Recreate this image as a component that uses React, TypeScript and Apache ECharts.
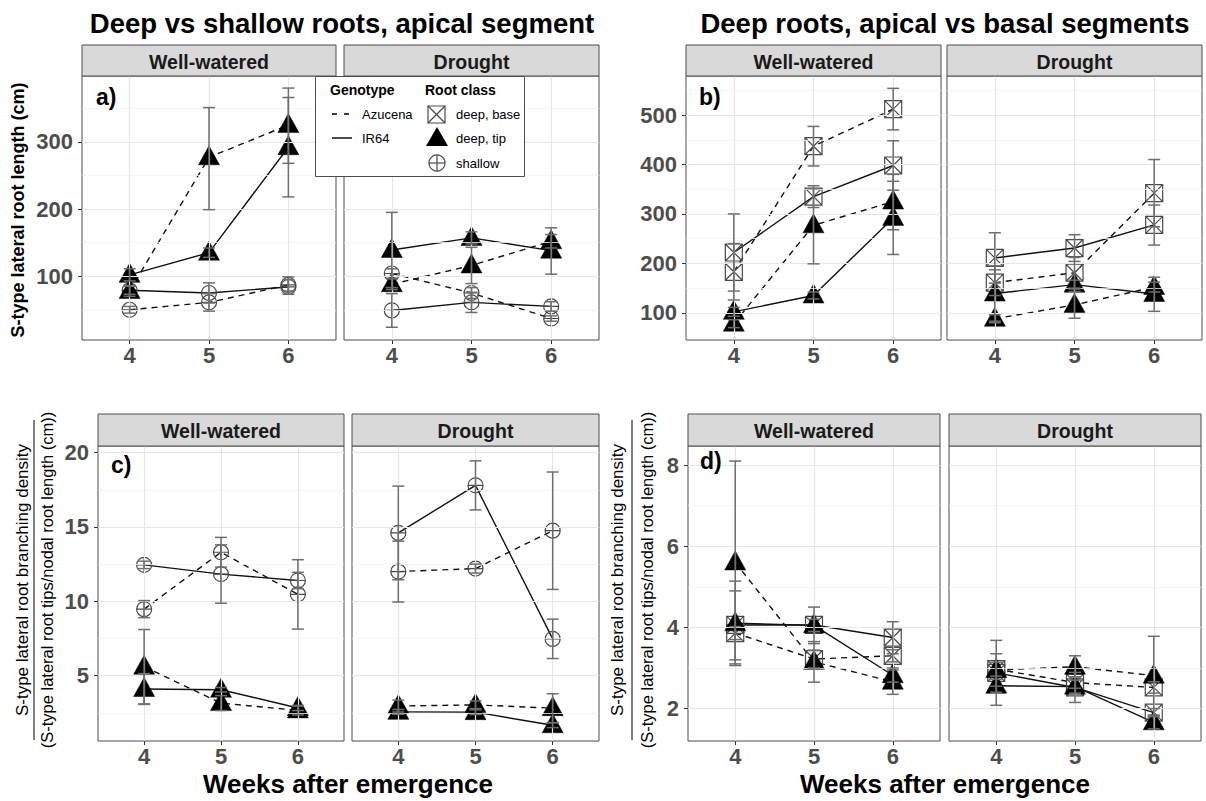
import React, { useEffect, useRef } from "react";
import * as echarts from "echarts";

const FONT = '"Liberation Sans", Arial, Helvetica, sans-serif';

// ---------- categories / ticks ----------
const weeks = [4, 5, 6];
const treatments = ["Well-watered", "Drought"];
const lenTicksA = [100, 200, 300];
const lenMinorA = [50, 150, 250, 350];
const lenTicksB = [100, 200, 300, 400, 500];
const lenMinorB = [50, 150, 250, 350, 450, 550];
const denTicksC = [5, 10, 15, 20];
const denMinorC = [2.5, 7.5, 12.5, 17.5];
const denTicksD = [2, 4, 6, 8];
const denMinorD = [3, 5, 7];

// ---------- S-type lateral root length (cm) ----------
// deep, tip
const lenTipAzuWW = [78, 277, 325];
const lenTipAzuWWLo = [70, 199, 268];
const lenTipAzuWWHi = [86, 351, 380];
const lenTipIRWW = [102, 135, 292];
const lenTipIRWWLo = [93, 128, 218];
const lenTipIRWWHi = [111, 142, 366];
const lenTipAzuDR = [88, 116, 152];
const lenTipAzuDRLo = [80, 89, 142];
const lenTipAzuDRHi = [96, 143, 162];
const lenTipIRDR = [139, 157, 138];
const lenTipIRDRLo = [83, 148, 103];
const lenTipIRDRHi = [195, 166, 172];
// shallow
const lenShAzuWW = [50, 61, 87];
const lenShAzuWWLo = [45, 48, 78];
const lenShAzuWWHi = [55, 74, 99];
const lenShIRWW = [79, 75, 84];
const lenShIRWWLo = [73, 60, 73];
const lenShIRWWHi = [85, 90, 95];
const lenShAzuDR = [104, 75, 37];
const lenShAzuDRLo = [97, 67, 33];
const lenShAzuDRHi = [111, 83, 41];
const lenShIRDR = [49, 61, 55];
const lenShIRDRLo = [24, 46, 48];
const lenShIRDRHi = [74, 76, 62];
// deep, base
const lenBaseAzuWW = [183, 437, 512];
const lenBaseAzuWWLo = [126, 397, 470];
const lenBaseAzuWWHi = [240, 477, 554];
const lenBaseIRWW = [222, 335, 398];
const lenBaseIRWWLo = [144, 313, 348];
const lenBaseIRWWHi = [300, 357, 448];
const lenBaseAzuDR = [161, 181, 342];
const lenBaseAzuDRLo = [135, 150, 274];
const lenBaseAzuDRHi = [187, 212, 410];
const lenBaseIRDR = [211, 231, 278];
const lenBaseIRDRLo = [160, 204, 237];
const lenBaseIRDRHi = [262, 258, 318];

// ---------- S-type lateral root branching density ----------
// shallow
const denShAzuWW = [9.47, 13.3, 10.47];
const denShAzuWWLo = [8.9, 12.3, 8.13];
const denShAzuWWHi = [10.05, 14.3, 12.8];
const denShIRWW = [12.45, 11.83, 11.4];
const denShIRWWLo = [12.2, 9.87, 10.85];
const denShIRWWHi = [12.7, 13.8, 11.95];
const denShAzuDR = [12.0, 12.2, 14.75];
const denShAzuDRLo = [9.95, 11.9, 10.8];
const denShAzuDRHi = [14.05, 12.5, 18.7];
const denShIRDR = [14.6, 17.8, 7.47];
const denShIRDRLo = [11.45, 16.15, 6.15];
const denShIRDRHi = [17.75, 19.45, 8.8];
// deep, tip
const denTipAzuWW = [5.6, 3.15, 2.66];
const denTipAzuWWLo = [3.1, 2.65, 2.35];
const denTipAzuWWHi = [8.1, 3.65, 2.95];
const denTipIRWW = [4.1, 4.05, 2.82];
const denTipIRWWLo = [3.06, 3.9, 2.65];
const denTipIRWWHi = [5.14, 4.2, 3.0];
const denTipAzuDR = [2.95, 3.03, 2.81];
const denTipAzuDRLo = [2.55, 2.78, 1.84];
const denTipAzuDRHi = [3.35, 3.3, 3.78];
const denTipIRDR = [2.56, 2.54, 1.66];
const denTipIRDRLo = [2.4, 2.38, 1.5];
const denTipIRDRHi = [2.72, 2.7, 1.82];
// deep, base
const denBaseAzuWW = [3.86, 3.22, 3.3];
const denBaseAzuWWLo = [3.7, 3.0, 3.15];
const denBaseAzuWWHi = [4.02, 3.44, 3.45];
const denBaseIRWW = [4.06, 4.06, 3.75];
const denBaseIRWWLo = [3.2, 3.6, 3.35];
const denBaseIRWWHi = [4.9, 4.5, 4.14];
const denBaseAzuDR = [2.97, 2.64, 2.52];
const denBaseAzuDRLo = [2.8, 2.5, 2.38];
const denBaseAzuDRHi = [3.14, 2.78, 2.66];
const denBaseIRDR = [2.88, 2.52, 1.9];
const denBaseIRDRLo = [2.08, 2.15, 1.8];
const denBaseIRDRHi = [3.68, 2.89, 2.0];

type Cls = "base" | "tip" | "shallow";
type Geno = "Azucena" | "IR64";
type Ser = { mean: number[]; lo: number[]; hi: number[]; cls: Cls; geno: Geno };
const s = (mean: number[], lo: number[], hi: number[], cls: Cls, geno: Geno): Ser => ({ mean, lo, hi, cls, geno });

const panels = [
  { left: 82, top: 76, width: 254, height: 264, min: 5, max: 398, major: lenTicksA, minor: lenMinorA, labels: true, strip: treatments[0],
    series: [s(lenShAzuWW, lenShAzuWWLo, lenShAzuWWHi, "shallow", "Azucena"), s(lenShIRWW, lenShIRWWLo, lenShIRWWHi, "shallow", "IR64"),
      s(lenTipAzuWW, lenTipAzuWWLo, lenTipAzuWWHi, "tip", "Azucena"), s(lenTipIRWW, lenTipIRWWLo, lenTipIRWWHi, "tip", "IR64")] },
  { left: 344, top: 76, width: 255, height: 264, min: 5, max: 398, major: lenTicksA, minor: lenMinorA, labels: false, strip: treatments[1],
    series: [s(lenShAzuDR, lenShAzuDRLo, lenShAzuDRHi, "shallow", "Azucena"), s(lenShIRDR, lenShIRDRLo, lenShIRDRHi, "shallow", "IR64"),
      s(lenTipAzuDR, lenTipAzuDRLo, lenTipAzuDRHi, "tip", "Azucena"), s(lenTipIRDR, lenTipIRDRLo, lenTipIRDRHi, "tip", "IR64")] },
  { left: 686, top: 76, width: 255, height: 264, min: 45, max: 579, major: lenTicksB, minor: lenMinorB, labels: true, strip: treatments[0],
    series: [s(lenBaseAzuWW, lenBaseAzuWWLo, lenBaseAzuWWHi, "base", "Azucena"), s(lenBaseIRWW, lenBaseIRWWLo, lenBaseIRWWHi, "base", "IR64"),
      s(lenTipAzuWW, lenTipAzuWWLo, lenTipAzuWWHi, "tip", "Azucena"), s(lenTipIRWW, lenTipIRWWLo, lenTipIRWWHi, "tip", "IR64")] },
  { left: 947, top: 76, width: 255, height: 264, min: 45, max: 579, major: lenTicksB, minor: lenMinorB, labels: false, strip: treatments[1],
    series: [s(lenBaseAzuDR, lenBaseAzuDRLo, lenBaseAzuDRHi, "base", "Azucena"), s(lenBaseIRDR, lenBaseIRDRLo, lenBaseIRDRHi, "base", "IR64"),
      s(lenTipAzuDR, lenTipAzuDRLo, lenTipAzuDRHi, "tip", "Azucena"), s(lenTipIRDR, lenTipIRDRLo, lenTipIRDRHi, "tip", "IR64")] },
  { left: 98, top: 446, width: 246, height: 295, min: 0.6, max: 20.45, major: denTicksC, minor: denMinorC, labels: true, strip: treatments[0],
    series: [s(denShAzuWW, denShAzuWWLo, denShAzuWWHi, "shallow", "Azucena"), s(denShIRWW, denShIRWWLo, denShIRWWHi, "shallow", "IR64"),
      s(denTipAzuWW, denTipAzuWWLo, denTipAzuWWHi, "tip", "Azucena"), s(denTipIRWW, denTipIRWWLo, denTipIRWWHi, "tip", "IR64")] },
  { left: 352, top: 446, width: 247, height: 295, min: 0.6, max: 20.45, major: denTicksC, minor: denMinorC, labels: false, strip: treatments[1],
    series: [s(denShAzuDR, denShAzuDRLo, denShAzuDRHi, "shallow", "Azucena"), s(denShIRDR, denShIRDRLo, denShIRDRHi, "shallow", "IR64"),
      s(denTipAzuDR, denTipAzuDRLo, denTipAzuDRHi, "tip", "Azucena"), s(denTipIRDR, denTipIRDRLo, denTipIRDRHi, "tip", "IR64")] },
  { left: 688, top: 446, width: 252, height: 295, min: 1.2, max: 8.47, major: denTicksD, minor: denMinorD, labels: true, strip: treatments[0],
    series: [s(denBaseAzuWW, denBaseAzuWWLo, denBaseAzuWWHi, "base", "Azucena"), s(denBaseIRWW, denBaseIRWWLo, denBaseIRWWHi, "base", "IR64"),
      s(denTipAzuWW, denTipAzuWWLo, denTipAzuWWHi, "tip", "Azucena"), s(denTipIRWW, denTipIRWWLo, denTipIRWWHi, "tip", "IR64")] },
  { left: 949, top: 446, width: 252, height: 295, min: 1.2, max: 8.47, major: denTicksD, minor: denMinorD, labels: false, strip: treatments[1],
    series: [s(denBaseAzuDR, denBaseAzuDRLo, denBaseAzuDRHi, "base", "Azucena"), s(denBaseIRDR, denBaseIRDRLo, denBaseIRDRHi, "base", "IR64"),
      s(denTipAzuDR, denTipAzuDRLo, denTipAzuDRHi, "tip", "Azucena"), s(denTipIRDR, denTipIRDRLo, denTipIRDRHi, "tip", "IR64")] },
];

const SYMBOL: Record<Cls, string> = {
  base: "path://M0,0L20,0L20,20L0,20ZM0,0L20,20M20,0L0,20",
  tip: "triangle",
  shallow: "path://M0,10A10,10,0,1,1,20,10A10,10,0,1,1,0,10ZM10,0L10,20M0,10L20,10",
};
const SYMSIZE: Record<Cls, any> = { base: 17, tip: [21, 19], shallow: 15 };

function buildOption() {
  const grid: any[] = [];
  const xAxis: any[] = [];
  const yAxis: any[] = [];
  const series: any[] = [];
  const graphic: any[] = [];

  panels.forEach((p, g) => {
    grid.push({ left: p.left, top: p.top, width: p.width, height: p.height, show: true, borderColor: "#4d4d4d", borderWidth: 1, backgroundColor: "#fff", containLabel: false });
    xAxis.push({
      gridIndex: g, type: "value", min: 3.4, max: 6.6,
      axisLine: { show: false },
      axisTick: { show: true, customValues: weeks, length: 4, lineStyle: { color: "#333", width: 1 } },
      axisLabel: { show: true, customValues: weeks, margin: 4, fontSize: 22, fontWeight: "bold", color: "#4d4d4d", fontFamily: FONT },
      splitLine: { show: false },
    });
    yAxis.push({
      gridIndex: g, type: "value", min: p.min, max: p.max,
      axisLine: { show: false },
      axisTick: { show: p.labels, customValues: p.major, length: 4, lineStyle: { color: "#333", width: 1 } },
      axisLabel: { show: p.labels, customValues: p.major, margin: 9, fontSize: 22, fontWeight: "bold", color: "#4d4d4d", fontFamily: FONT },
      splitLine: { show: false },
    });
    // panel grid lines (major & minor) through the axis scales
    series.push({
      type: "line", xAxisIndex: g, yAxisIndex: g, data: [], silent: true, z: 1,
      markLine: {
        silent: true, symbol: ["none", "none"], label: { show: false }, animation: false,
        emphasis: { disabled: true },
        data: [
          ...p.minor.map((v) => ({ yAxis: v, lineStyle: { color: "#f2f2f2", width: 0.8, type: "solid" } })),
          ...p.major.map((v) => ({ yAxis: v, lineStyle: { color: "#e6e6e6", width: 1.2, type: "solid" } })),
          ...weeks.map((w) => ({ xAxis: w, lineStyle: { color: "#e6e6e6", width: 1.2, type: "solid" } })),
        ],
      },
    });
    p.series.forEach((sr) => {
      const filled = sr.cls === "tip";
      series.push({
        type: "line", xAxisIndex: g, yAxisIndex: g, silent: true, z: 3,
        data: weeks.map((w, i) => [w, sr.mean[i]]),
        symbol: SYMBOL[sr.cls], symbolSize: SYMSIZE[sr.cls], symbolOffset: filled ? [0, -2] : [0, 0],
        showAllSymbol: true,
        itemStyle: filled
          ? { color: "#000", borderColor: "#000", borderWidth: 0.5, opacity: 1 }
          : { color: "rgba(0,0,0,0)", borderColor: "#4a4a4a", borderWidth: 1.2, opacity: 1 },
        lineStyle: { color: "#111", width: 1.4, type: sr.geno === "Azucena" ? [6, 5] : "solid" },
        emphasis: { disabled: true },
      });
      series.push({
        type: "custom", xAxisIndex: g, yAxisIndex: g, silent: true, z: 5,
        data: weeks.map((w, i) => [w, sr.lo[i], sr.hi[i]]),
        encode: { x: 0, y: [1, 2] },
        renderItem: (params: any, api: any) => {
          const x = api.value(0);
          const pLo = api.coord([x, api.value(1)]);
          const pHi = api.coord([x, api.value(2)]);
          const w = 6;
          const style = { stroke: "#6e6e6e", lineWidth: 1.5 };
          return {
            type: "group",
            children: [
              { type: "line", shape: { x1: pLo[0], y1: pLo[1], x2: pHi[0], y2: pHi[1] }, style },
              { type: "line", shape: { x1: pLo[0] - w, y1: pLo[1], x2: pLo[0] + w, y2: pLo[1] }, style },
              { type: "line", shape: { x1: pHi[0] - w, y1: pHi[1], x2: pHi[0] + w, y2: pHi[1] }, style },
            ],
          };
        },
      });
    });
    // facet strip
    const sy = p.top < 200 ? 45 : 414;
    graphic.push({ type: "rect", z: 50, shape: { x: p.left, y: sy, width: p.width, height: p.top - sy }, style: { fill: "#d9d9d9", stroke: "#4d4d4d", lineWidth: 1 } });
    graphic.push({ type: "text", z: 51, x: p.left + p.width / 2, y: (sy + p.top) / 2 + 1,
      style: { text: p.strip, font: `bold 19.5px ${FONT}`, fill: "#1a1a1a", textAlign: "center", textVerticalAlign: "middle", align: "center", verticalAlign: "middle" } });
  });

  const txt = (text: string, x: number, y: number, font: string, extra: any = {}) => ({
    type: "text", z: 60, x, y, ...extra,
    style: { text, font, fill: "#000", textAlign: "center", textVerticalAlign: "middle", align: "center", verticalAlign: "middle", ...(extra.style || {}) },
  });

  // titles
  graphic.push(txt("Deep vs shallow roots, apical segment", 342, 23, `bold 27.5px ${FONT}`));
  graphic.push(txt("Deep roots, apical vs basal segments", 945, 23, `bold 27.5px ${FONT}`));
  // x axis titles
  graphic.push(txt("Weeks after emergence", 348, 784, `bold 26px ${FONT}`));
  graphic.push(txt("Weeks after emergence", 945, 784, `bold 26px ${FONT}`));
  // y axis titles
  graphic.push(txt("S-type lateral root length (cm)", 18, 210, `bold 18px ${FONT}`, { rotation: Math.PI / 2 }));
  [[22, 34, 47], [617, 632, 647]].forEach(([x1, xb, x2]) => {
    graphic.push(txt("S-type lateral root branching density", x1, 580, `17px ${FONT}`, { rotation: Math.PI / 2 }));
    graphic.push({ type: "line", z: 60, shape: { x1: xb, y1: 420, x2: xb, y2: 740 }, style: { stroke: "#000", lineWidth: 1 } });
    graphic.push(txt("(S-type lateral root tips/nodal root length (cm))", x2, 580, `16.5px ${FONT}`, { rotation: Math.PI / 2 }));
  });
  // panel tags
  const tag = (t: string, x: number, y: number) => ({
    type: "text", z: 60, x, y,
    style: { text: t, font: `bold 23px ${FONT}`, fill: "#000", textAlign: "left", textVerticalAlign: "middle", align: "left", verticalAlign: "middle" },
  });
  graphic.push(tag("a)", 96, 97), tag("b)", 699, 97), tag("c)", 111, 465), tag("d)", 700, 461));

  // legend
  const L: any[] = [];
  L.push({ type: "rect", shape: { x: 315.5, y: 76.5, width: 209, height: 100 }, style: { fill: "#fff", stroke: "#4d4d4d", lineWidth: 1 } });
  const ltxt = (t: string, x: number, y: number, bold = false) => ({
    type: "text", x, y,
    style: { text: t, font: `${bold ? "bold 14px" : "13px"} ${FONT}`, fill: "#000", textAlign: "left", textVerticalAlign: "middle", align: "left", verticalAlign: "middle" },
  });
  L.push(ltxt("Genotype", 330, 90, true), ltxt("Root class", 425, 90, true));
  L.push({ type: "line", shape: { x1: 332, y1: 114, x2: 350, y2: 114 }, style: { stroke: "#000", lineWidth: 1.4, lineDash: [5, 7] } });
  L.push({ type: "line", shape: { x1: 332, y1: 138, x2: 352, y2: 138 }, style: { stroke: "#000", lineWidth: 1.4 } });
  L.push(ltxt("Azucena", 362, 114), ltxt("IR64", 362, 138));
  const sq = { x: 428, y: 106, w: 17 };
  L.push({ type: "rect", shape: { x: sq.x, y: sq.y, width: sq.w, height: sq.w }, style: { fill: "none", stroke: "#4a4a4a", lineWidth: 1.2 } });
  L.push({ type: "line", shape: { x1: sq.x, y1: sq.y, x2: sq.x + sq.w, y2: sq.y + sq.w }, style: { stroke: "#4a4a4a", lineWidth: 1.2 } });
  L.push({ type: "line", shape: { x1: sq.x + sq.w, y1: sq.y, x2: sq.x, y2: sq.y + sq.w }, style: { stroke: "#4a4a4a", lineWidth: 1.2 } });
  L.push({ type: "polygon", shape: { points: [[437, 127], [426, 146], [448, 146]] }, style: { fill: "#000" } });
  L.push({ type: "circle", shape: { cx: 437, cy: 163, r: 8 }, style: { fill: "none", stroke: "#4a4a4a", lineWidth: 1.2 } });
  L.push({ type: "line", shape: { x1: 437, y1: 155, x2: 437, y2: 171 }, style: { stroke: "#4a4a4a", lineWidth: 1.2 } });
  L.push({ type: "line", shape: { x1: 429, y1: 163, x2: 445, y2: 163 }, style: { stroke: "#4a4a4a", lineWidth: 1.2 } });
  L.push(ltxt("deep, base", 456, 114), ltxt("deep, tip", 456, 138), ltxt("shallow", 456, 163));
  L.forEach((el, i) => graphic.push({ ...el, z: 100 + (i === 0 ? 0 : 1) }));

  return { animation: false, backgroundColor: "#fff", grid, xAxis, yAxis, series, graphic };
}

export default function App() {
  const ref = useRef<HTMLDivElement>(null);
  useEffect(() => {
    if (!ref.current) return;
    const chart = echarts.init(ref.current, undefined, { renderer: "svg" });
    chart.setOption(buildOption() as any);
    return () => chart.dispose();
  }, []);
  return <div ref={ref} style={{ position: "fixed", left: 0, top: 0, width: 1206, height: 801, background: "#fff" }} />;
}
